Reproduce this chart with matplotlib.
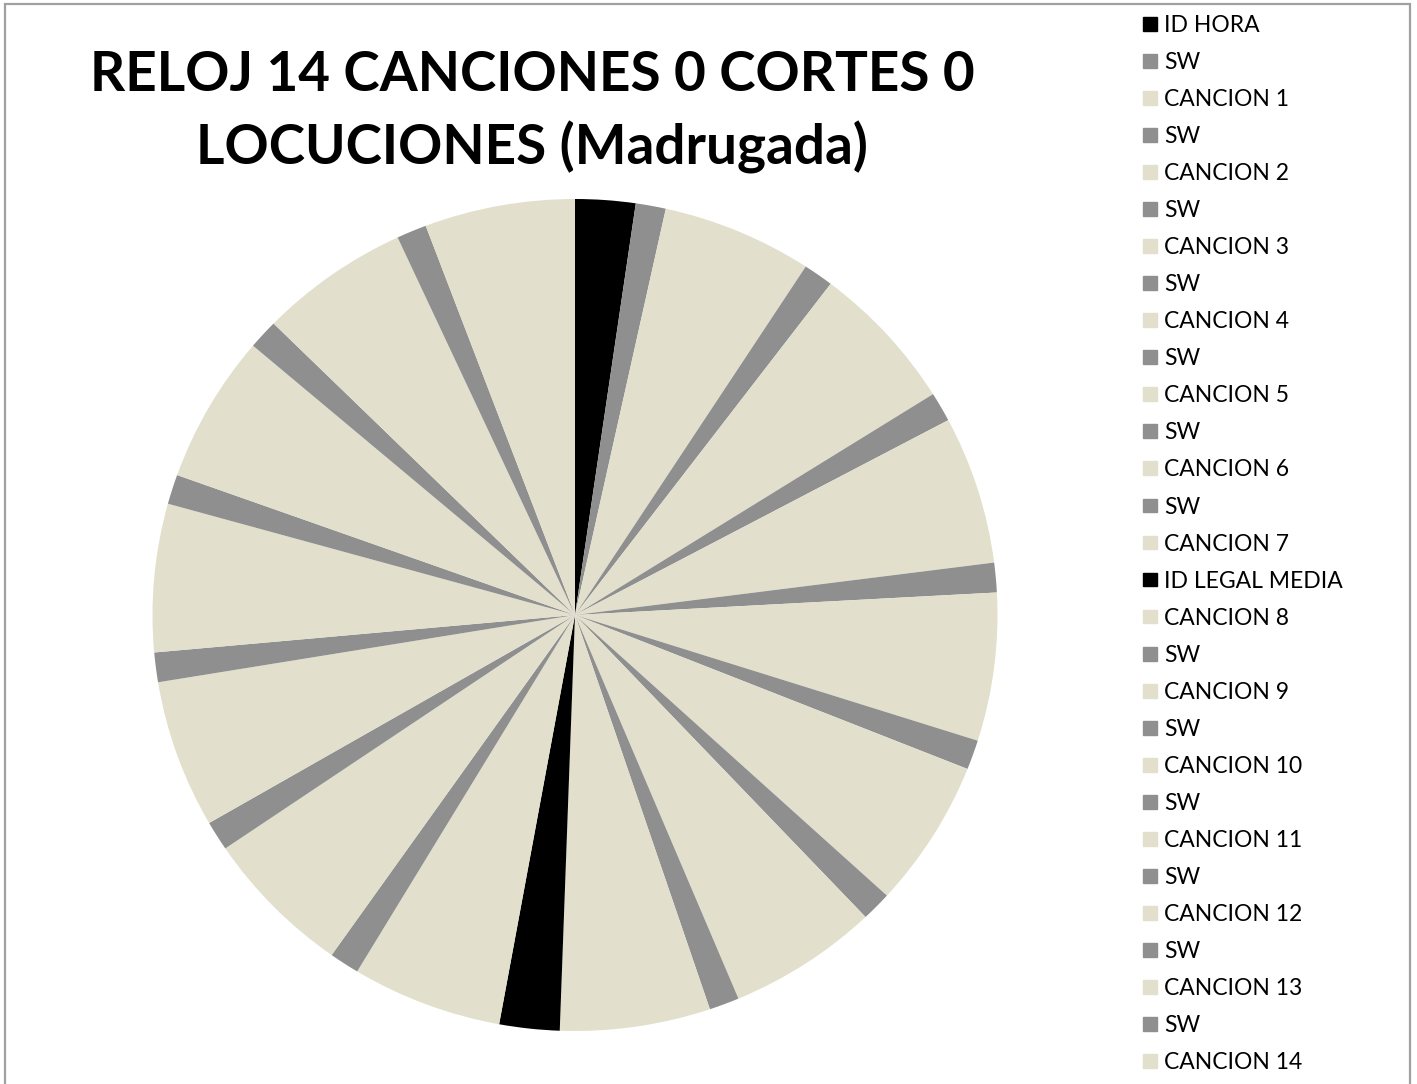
import matplotlib
matplotlib.use("Agg")
import matplotlib.pyplot as plt
import matplotlib.patches as mpatches

plt.rcParams['font.family'] = ['Lato', 'DejaVu Sans']

# segmentos del reloj en segundos, en orden horario desde las 00
segmentos = ['ID HORA', 'SW', 'CANCION 1', 'SW', 'CANCION 2', 'SW', 'CANCION 3', 'SW',
             'CANCION 4', 'SW', 'CANCION 5', 'SW', 'CANCION 6', 'SW', 'CANCION 7',
             'ID LEGAL MEDIA', 'CANCION 8', 'SW', 'CANCION 9', 'SW', 'CANCION 10', 'SW',
             'CANCION 11', 'SW', 'CANCION 12', 'SW', 'CANCION 13', 'SW', 'CANCION 14']
duracion = [60, 30, 150, 30, 150, 30, 150, 30,
            150, 30, 150, 30, 150, 30, 150,
            60, 150, 30, 150, 30, 150, 30,
            150, 30, 150, 30, 150, 30, 150]

col_id = '#000000'
col_sw = '#8f8f8f'
col_cancion = '#e2e0cc'


def color_de(nombre):
    if nombre.startswith('ID'):
        return col_id
    if nombre == 'SW':
        return col_sw
    return col_cancion


colores = [color_de(s) for s in segmentos]

fig = plt.figure(figsize=(14.17, 10.84), dpi=100)

# marco gris del area del grafico
fig.patches.append(mpatches.Rectangle((5 / 1417, -0.01), 1405 / 1417, 1.01 - 4 / 1084,
                                      transform=fig.transFigure, fill=False,
                                      edgecolor='#a0a0a0', linewidth=1.6))

ax = fig.add_axes([152.5 / 1417, 53 / 1084, 845 / 1417, 832 / 1084])
ax.pie(duracion, colors=colores, startangle=90, counterclock=False,
       wedgeprops=dict(linewidth=0))
ax.set_aspect('auto')
ax.set_xlim(-1, 1)
ax.set_ylim(-1, 1)

fig.text(532 / 1417, 1 - 90.7 / 1084, 'RELOJ 14 CANCIONES 0 CORTES 0',
         ha='center', va='baseline', fontsize=39.5, fontweight='bold')
fig.text(532 / 1417, 1 - 164 / 1084, 'LOCUCIONES (Madrugada)',
         ha='center', va='baseline', fontsize=39.5, fontweight='bold')

handles = [mpatches.Patch(color=c, label=s) for s, c in zip(segmentos, colores)]
fig.legend(handles=handles, loc='upper left', bbox_to_anchor=(1143 / 1417, 1 - 15 / 1084),
           frameon=False, fontsize=16.5, handlelength=0.62, handleheight=0.55,
           handletextpad=0.3, labelspacing=0.7, borderpad=0, borderaxespad=0)

fig.savefig('out.png', dpi=100)
